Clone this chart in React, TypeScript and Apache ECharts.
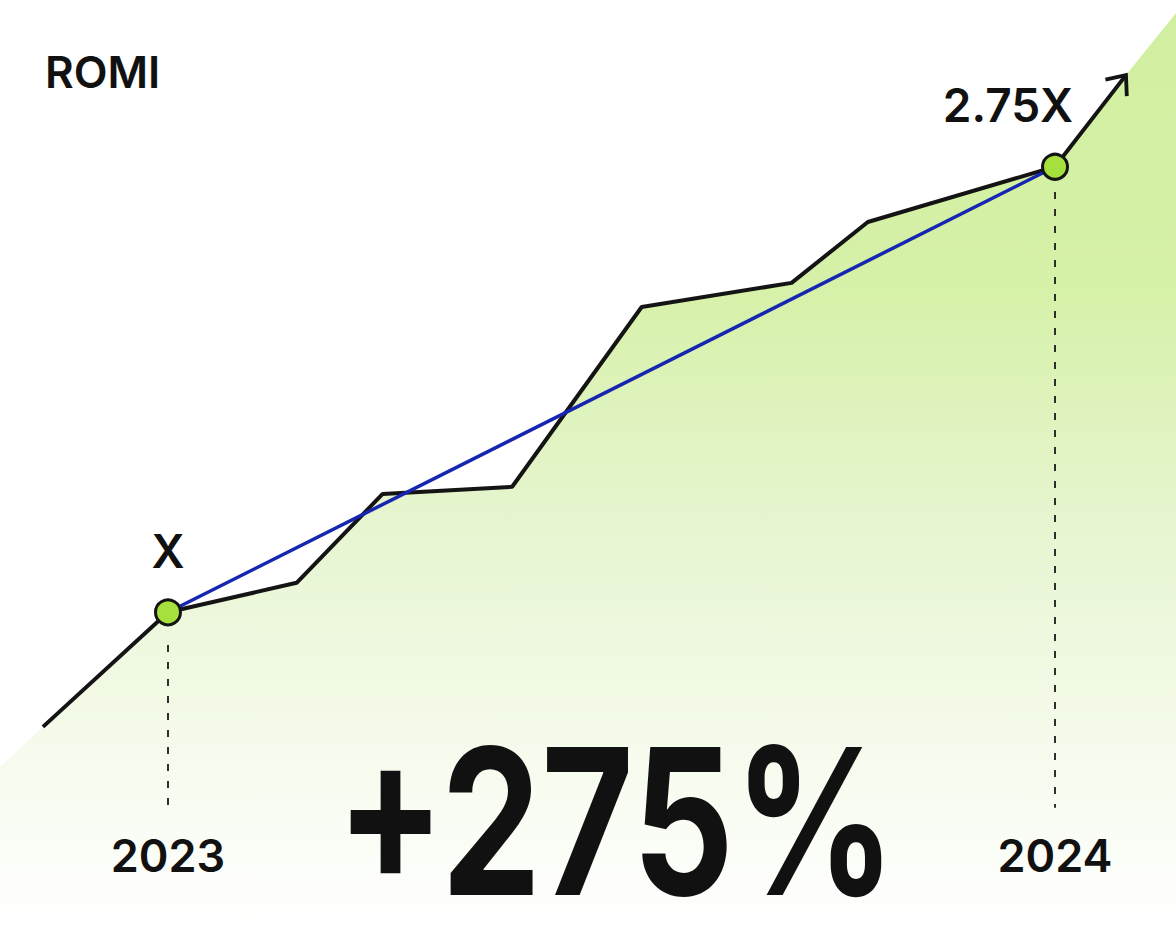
import React, { useEffect, useRef } from "react";
import * as echarts from "echarts";

// ROMI path over time (x: year, y: ROMI multiple)
const lineT = [2022.859, 2023.0, 2023.145, 2023.242, 2023.388, 2023.534, 2023.703, 2023.789, 2024.0, 2024.08];
const lineV = [0.55, 1.0, 1.116, 1.465, 1.493, 2.199, 2.294, 2.533, 2.75, 3.11];
// area extends a little beyond the drawn line at both ends
const areaStart = [2022.8106, 0.393];
const areaEnd = [2024.1364, 3.354];
// the two compared points
const pointT = [2023, 2024];
const pointV = [1, 2.75];
const pointLabels = ["X", "2.75X"];
const yearTicks = [2023, 2024];
const yearLabelV = 0.044;
const guideTop = [0.872, 2.651];
const guideBottom = 0.232;
const title = "ROMI";
const headline = "+275%";

const X_MIN = 2022.8106;
const X_MAX = 2024.1364;
const Y_MIN = -0.24;
const Y_MAX = 3.405;

const FONT = "Inter, 'Noto Sans', sans-serif";

export default function App() {
  const ref = useRef<HTMLDivElement>(null);
  useEffect(() => {
    if (!ref.current) return;
    const chart = echarts.init(ref.current, null, { renderer: "svg" });
    const linePts = lineT.map((t, i) => [t, lineV[i]]);
    const areaPts = [areaStart, ...linePts, areaEnd];
    const pts = pointT.map((t, i) => [t, pointV[i]]);
    const n = linePts.length;
    const guideSeries = pointT.map((t, i) => ({
      type: "line",
      data: [
        [t, guideTop[i]],
        [t, guideBottom],
      ],
      symbol: "none",
      silent: true,
      z: 2,
      lineStyle: { color: "#1a1a1a", width: 1.8, type: [7, 10] },
    }));
    chart.setOption({
      animation: false,
      grid: { left: 0, right: 0, top: 0, bottom: 0 },
      title: {
        text: title,
        left: 45,
        top: 50,
        padding: 0,
        textStyle: { fontFamily: FONT, fontSize: 44, fontWeight: 600, color: "#111" },
      },
      xAxis: {
        type: "value",
        min: X_MIN,
        max: X_MAX,
        show: false,
      },
      yAxis: {
        type: "value",
        min: Y_MIN,
        max: Y_MAX,
        show: false,
      },
      graphic: [
        {
          type: "text",
          x: 616,
          y: 821,
          scaleX: 0.78,
          z: 10,
          style: {
            text: headline,
            fontFamily: FONT,
            fontSize: 204,
            lineHeight: 170,
            fontWeight: 700,
            fill: "#111",
            align: "center",
            verticalAlign: "middle",
          },
        },
      ],
      series: [
        {
          type: "line",
          data: areaPts,
          symbol: "none",
          silent: true,
          z: 1,
          lineStyle: { width: 0, opacity: 0 },
          areaStyle: {
            origin: "start",
            opacity: 1,
            color: new echarts.graphic.LinearGradient(0, 0, 0, 1, [
              { offset: 0, color: "#d1efa0" },
              { offset: 0.3, color: "#d6f1a8" },
              { offset: 0.55, color: "#e6f5cf" },
              { offset: 0.8, color: "#f5fbec" },
              { offset: 1, color: "#ffffff" },
            ]),
          },
        },
        ...guideSeries,
        {
          type: "line",
          data: linePts,
          symbol: "none",
          silent: true,
          z: 3,
          lineStyle: { color: "#141414", width: 4 },
        },
        {
          type: "custom",
          z: 3,
          silent: true,
          data: [[lineT[n - 1], lineV[n - 1], lineT[n - 2], lineV[n - 2]]],
          encode: { x: 0, y: 1 },
          renderItem: (params: any, api: any) => {
            const tip = api.coord([api.value(0), api.value(1)]);
            const prev = api.coord([api.value(2), api.value(3)]);
            const ang = Math.atan2(tip[1] - prev[1], tip[0] - prev[0]);
            const L = 21;
            const a = (40 * Math.PI) / 180;
            const p1 = [tip[0] - L * Math.cos(ang - a), tip[1] - L * Math.sin(ang - a)];
            const p2 = [tip[0] - L * Math.cos(ang + a), tip[1] - L * Math.sin(ang + a)];
            return {
              type: "polyline",
              shape: { points: [p1, tip, p2] },
              style: { stroke: "#141414", lineWidth: 3.8, fill: "none", lineJoin: "miter" },
            };
          },
        },
        {
          type: "line",
          data: pts,
          symbol: "none",
          silent: true,
          z: 4,
          lineStyle: { color: "#1726b0", width: 3.5 },
        },
        {
          type: "scatter",
          data: pts,
          symbolSize: 25,
          silent: true,
          z: 5,
          itemStyle: { color: "#a6e03c", borderColor: "#141414", borderWidth: 3, opacity: 1 },
          label: {
            show: true,
            position: "top",
            distance: 24,
            formatter: (p: any) => pointLabels[p.dataIndex],
            fontFamily: FONT,
            fontSize: 46,
            fontWeight: 600,
            color: "#111",
          },
          labelLayout: (p: any) => (p.dataIndex === 1 ? { dx: -47, dy: -1 } : {}),
        },
        {
          type: "scatter",
          data: yearTicks.map((y) => [y, yearLabelV]),
          symbolSize: 2,
          silent: true,
          z: 6,
          itemStyle: { color: "rgba(255,255,255,0)" },
          label: {
            show: true,
            position: "inside",
            opacity: 1,
            formatter: (p: any) => String(yearTicks[p.dataIndex]),
            fontFamily: FONT,
            fontSize: 45,
            fontWeight: 600,
            color: "#111",
          },
          labelLayout: { hideOverlap: false },
        },
      ],
    });
    return () => chart.dispose();
  }, []);
  return (
    <div
      ref={ref}
      style={{ position: "absolute", left: 0, top: 0, width: 1176, height: 928, background: "#ffffff" }}
    />
  );
}
